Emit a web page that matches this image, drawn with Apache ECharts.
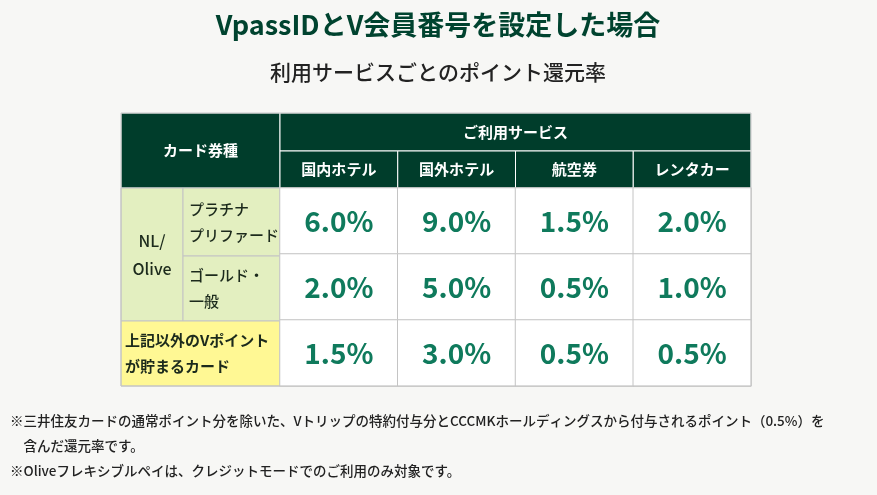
<!DOCTYPE html>
<html><head><meta charset="utf-8">
<script src="https://cdn.jsdelivr.net/npm/echarts@6/dist/echarts.min.js"></script>
<style>html,body{margin:0;background:#f7f7f5}#c{width:877px;height:495px}</style>
</head><body><div id="c"></div>
<script>
// データ
var services = ['国内ホテル', '国外ホテル', '航空券', 'レンタカー'];
var cardRows = ['プラチナ\nプリファード', 'ゴールド・\n一般', '上記以外のVポイント\nが貯まるカード'];
var rateRows = [
    [6.0, 9.0, 1.5, 2.0],
    [2.0, 5.0, 0.5, 1.0],
    [1.5, 3.0, 0.5, 0.5]
];
var title = 'VpassIDとV会員番号を設定した場合';
var subTitle = '利用サービスごとのポイント還元率';
var notes = [
    '※三井住友カードの通常ポイント分を除いた、Vトリップの特約付与分とCCCMKホールディングスから付与されるポイント（0.5%）を',
    '　含んだ還元率です。',
    '※Oliveフレキシブルペイは、クレジットモードでのご利用のみ対象です。'
];

var FONT = '"Noto Sans CJK JP", "Noto Sans", sans-serif';
var DARK = '#003d2b';
var LINE = '#c4c4c4';

var heat = [];
for (var r = 0; r < rateRows.length; r++) {
    for (var c = 0; c < services.length; c++) {
        heat.push([c, r, rateRows[r][c]]);
    }
}

// 表の座標
var L = 121, X1 = 183, X2 = 280, R = 751;
var T = 113, H1 = 151, H2 = 188;
var rowY = [188, 256, 321, 386];
var colW = (R - X2) / services.length;

function rect(x, y, w, h, fill) {
    return {type: 'rect', shape: {x: x, y: y, width: w, height: h}, z: 1,
        style: {fill: fill, stroke: fill === DARK ? '#ffffff' : LINE, lineWidth: 1}};
}
function text(x, y, s, opt) {
    return {type: 'text', x: x, y: y, z: 5, style: Object.assign({text: s, font: '700 15px ' + FONT,
        fill: '#fff', align: 'center', verticalAlign: 'middle', lineHeight: 26}, opt || {})};
}

var g = [];
g.push(rect(L, T, X2 - L, H2 - T, DARK));
g.push(text((L + X2) / 2, (T + H2) / 2, 'カード券種'));
g.push(rect(X2, T, R - X2, H1 - T, DARK));
g.push(text((X2 + R) / 2, (T + H1) / 2, 'ご利用サービス'));
services.forEach(function (s, i) {
    g.push(rect(X2 + i * colW, H1, colW, H2 - H1, DARK));
    g.push(text(X2 + (i + 0.5) * colW, (H1 + H2) / 2, s));
});
g.push(rect(L, rowY[0], X1 - L, rowY[2] - rowY[0], '#e3efc0'));
g.push(text((L + X1) / 2, (rowY[0] + rowY[2]) / 2, 'NL/\nOlive', {fill: '#1c2a1c', font: '500 16px ' + FONT, lineHeight: 28}));
for (var k = 0; k < 2; k++) {
    g.push(rect(X1, rowY[k], X2 - X1, rowY[k + 1] - rowY[k], '#e3efc0'));
    g.push(text(X1 + 6, (rowY[k] + rowY[k + 1]) / 2, cardRows[k], {fill: '#1c2a1c', font: '500 15px ' + FONT, align: 'left'}));
}
g.push(rect(L, rowY[2], X2 - L, rowY[3] - rowY[2], '#fff894'));
g.push(text(L + 4, (rowY[2] + rowY[3]) / 2, cardRows[2], {fill: '#1c2a1c', font: '700 15px ' + FONT, align: 'left'}));
g.push(rect(L, T, R - L, rowY[3] - T, 'transparent'));
g[g.length - 1].style.stroke = LINE;
g[g.length - 1].z = 10;
g.push(text(438, 25, title, {fill: '#00432f', font: '700 27px ' + FONT}));
g.push(text(438, 72, subTitle, {fill: '#222', font: '500 21px ' + FONT}));
notes.forEach(function (n, i) {
    g.push(text(10, 421 + i * 25, n, {fill: '#222', font: '500 13.5px ' + FONT, align: 'left'}));
});

var chart = echarts.init(document.getElementById('c'));
chart.setOption({
    animation: false,
    grid: {left: X2, right: 877 - R, top: rowY[0], bottom: 495 - rowY[3]},
    xAxis: {type: 'category', data: services, show: false},
    yAxis: {type: 'category', data: [0, 1, 2], inverse: true, show: false},
    visualMap: {show: false, min: 0, max: 10, inRange: {color: ['#ffffff', '#ffffff']}},
    graphic: g,
    series: [{
        type: 'heatmap',
        data: heat,
        itemStyle: {borderColor: LINE, borderWidth: 1},
        emphasis: {disabled: true},
        label: {show: true, color: '#0f7a5c', fontFamily: FONT, fontWeight: 700, fontSize: 28,
            formatter: function (p) { return p.value[2].toFixed(1) + '%'; }}
    }]
});
</script></body></html>
